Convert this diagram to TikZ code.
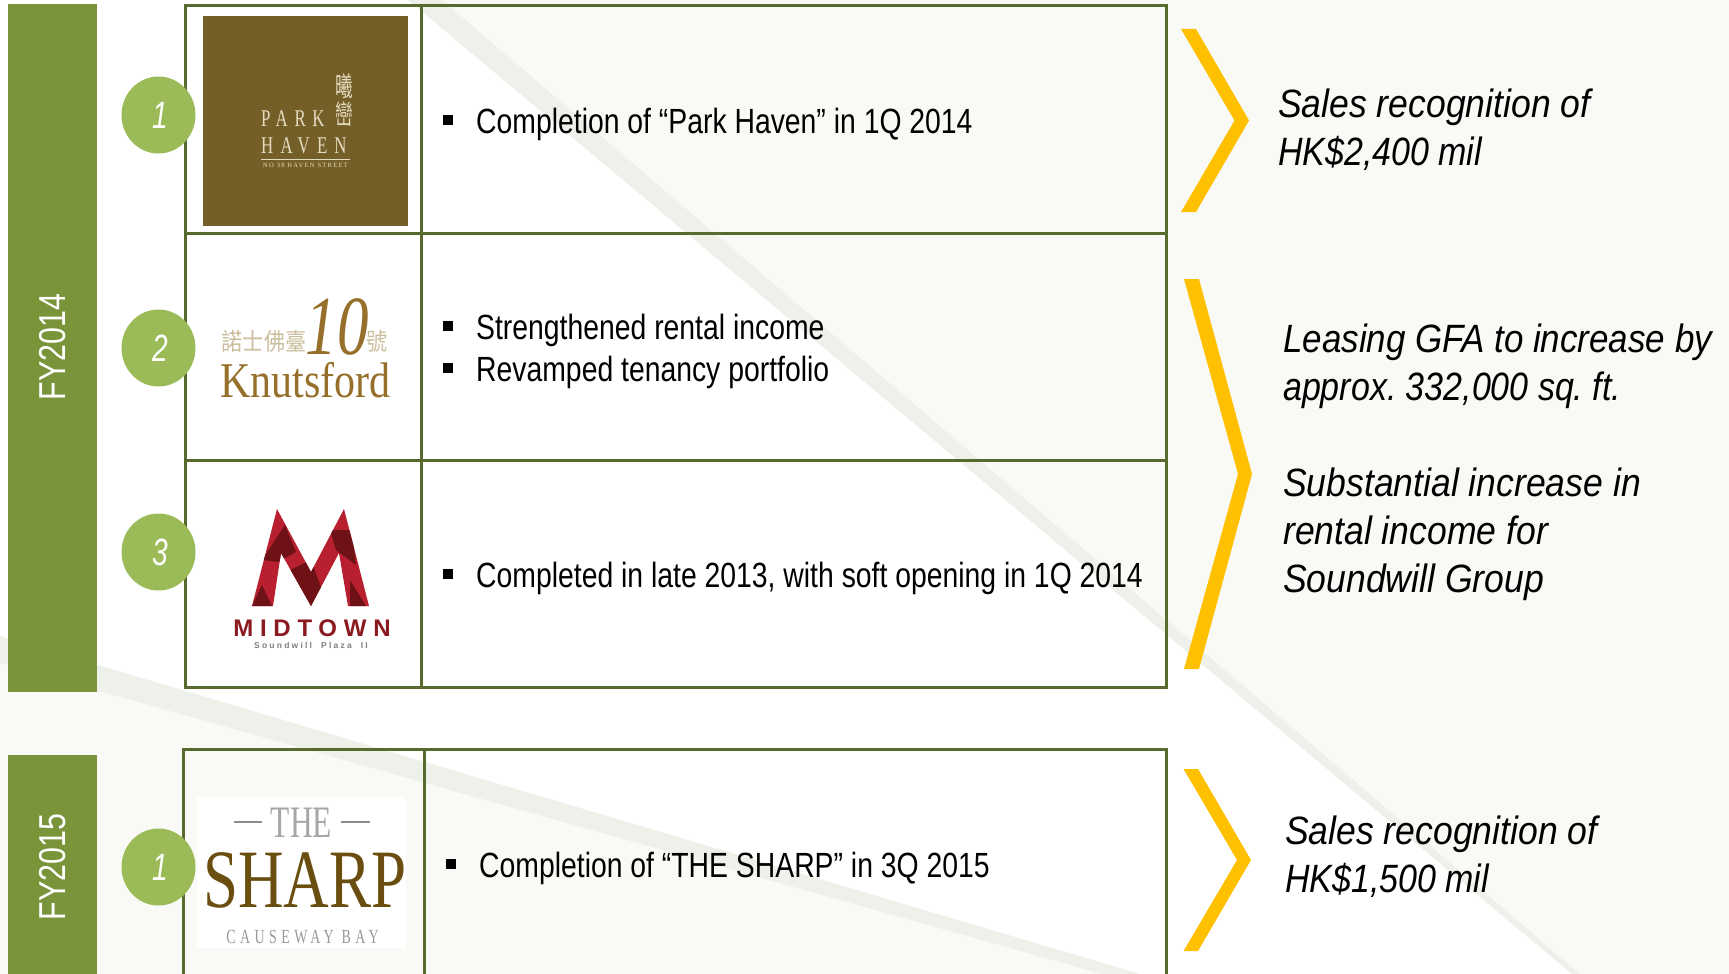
\documentclass[tikz,border=0pt]{standalone}
\usepackage{fontspec}
\usetikzlibrary{shapes.geometric}
\setmainfont{Liberation Sans}
\newfontfamily\narrowf[FakeStretch=0.81]{Liberation Sans}
\newfontfamily\sansi[FakeStretch=0.90]{Liberation Sans Italic}
\newfontfamily\sansj[FakeStretch=0.885]{Liberation Sans Italic}
\newfontfamily\sansk[FakeStretch=0.86]{Liberation Sans Italic}
\newfontfamily\numi[FakeStretch=0.74]{Liberation Sans Italic}
\newfontfamily\serif{Liberation Serif}
\newfontfamily\serifn[FakeStretch=0.70]{Liberation Serif}
\newfontfamily\serifs[FakeStretch=0.76]{Liberation Serif}
\newfontfamily\serifm[FakeStretch=0.84]{Liberation Serif}
\newfontfamily\serifi[FakeStretch=0.75]{Liberation Serif Italic}
\newfontfamily\cjkn[FakeStretch=0.88]{Noto Sans CJK TC}
\newfontfamily\cjkv[FakeStretch=0.65]{Noto Sans CJK TC}
\definecolor{offw}{HTML}{F9FAF6}
\definecolor{bandc}{HTML}{EEF1E9}
\definecolor{barc}{HTML}{7A9439}
\definecolor{linec}{HTML}{566B2D}
\definecolor{circ}{HTML}{9BBB59}
\definecolor{chev}{HTML}{FFC000}
\definecolor{brownb}{HTML}{755F28}
\definecolor{cream}{HTML}{E4DCC0}
\definecolor{knutl}{HTML}{CBBE9C}
\definecolor{knutd}{HTML}{96702A}
\definecolor{redm}{HTML}{B8202F}
\definecolor{redd}{HTML}{6E1218}
\definecolor{midt}{HTML}{8B1A20}
\definecolor{sharpb}{HTML}{6A4E10}
\frenchspacing
\tikzset{
  grid/.style={draw=linec,line width=3pt},
  bar/.style={fill=barc,draw=none},
  yearlab/.style={text=white,rotate=90,inner sep=0pt,font=\narrowf\fontsize{37.5}{37.5}\selectfont},
  numc/.style={ellipse,fill=circ,minimum width=74pt,minimum height=77pt,inner sep=0pt,text=white,font=\numi\fontsize{38}{38}\selectfont},
  chevron/.style={fill=chev,draw=none},
  txt/.style={anchor=base west,inner sep=0pt,text=black,font=\narrowf\fontsize{35}{35}\selectfont},
  res/.style={anchor=base west,inner sep=0pt,text=black,font=\sansi\fontsize{39.5}{39.5}\selectfont},
  resj/.style={res,font=\sansj\fontsize{39.5}{39.5}\selectfont},
  resk/.style={res,font=\sansk\fontsize{39.5}{39.5}\selectfont},
  bul/.style={rectangle,fill=black,minimum size=10pt,inner sep=0pt},
  logo/.style={inner sep=0pt,anchor=base},
  logow/.style={inner sep=0pt,anchor=base west}
}
\begin{document}
\begin{tikzpicture}[x=1pt,y=-1pt]
\useasboundingbox (0,0) rectangle (1729,974);
% background
\fill[white] (0,0) rectangle (1729,974);
\fill[offw] (442,0) -- (1729,0) -- (1729,974) -- (1580,974) -- cycle;
\fill[offw] (0,663) -- (1102,974) -- (0,974) -- cycle;
\fill[bandc] (408,0) -- (442,0) -- (1580,974) -- (1572,974) -- cycle;
\fill[bandc] (0,636) -- (1140,974) -- (1102,974) -- (0,663) -- cycle;
% year bars
\fill[bar] (8,4) rectangle (97,692);
\fill[bar] (8,755) rectangle (97,974);
\node[yearlab] (fy14) at (53,347) {FY2014};
\node[yearlab] (fy15) at (53,867) {FY2015};
% park haven logo
\fill[brownb] (203,16) rectangle (408,226);
\node[logow,text=cream,font=\serifn\fontsize{24}{24}\selectfont] (ph1) at (261,126) {\addfontfeature{LetterSpace=28}PARK};
\node[logow,text=cream,font=\serifn\fontsize{24}{24}\selectfont] (ph2) at (261,153) {\addfontfeature{LetterSpace=30}HAVEN};
\node[text=cream,inner sep=0pt,font=\cjkv\fontsize{27}{28}\selectfont,align=center] (ph3) at (344,100) {曦\\巒};
\draw[cream,line width=0.8pt] (261,159) -- (350,159);
\node[logo,text=cream,font=\serif\fontsize{6.5}{6.5}\selectfont] (ph4) at (305.5,167) {\addfontfeature{LetterSpace=20}NO 38 HAVEN STREET};
% knutsford logo
\node[logo,text=knutl,font=\cjkn\fontsize{24}{24}\selectfont] (kn1) at (264,350) {諾士佛臺};
\node[logo,text=knutd,font=\serifi\fontsize{84}{84}\selectfont] (kn2) at (337,354) {10};
\node[logo,text=knutl,font=\cjkn\fontsize{24}{24}\selectfont] (kn3) at (377,350) {號};
\node[logo,text=knutd,font=\serifm\fontsize{50}{50}\selectfont] (kn4) at (305.5,397) {Knutsford};
% midtown logo
\begin{scope}
\clip (252,606) -- (277,509) -- (311,572) -- (344,509) -- (369,606) -- (348,606) -- (339,553) -- (311,606) -- (281,553) -- (273,606) -- cycle;
\fill[redm] (245,500) rectangle (375,610);
\fill[redd] (262,560) -- (285,525) -- (296,552) -- (278,562) -- cycle;
\fill[redd] (290,570) -- (311,560) -- (322,590) -- (311,606) -- cycle;
\fill[redd] (330,530) -- (352,530) -- (356,565) -- (336,550) -- cycle;
\fill[redd] (252,606) -- (262,585) -- (272,606) -- cycle;
\fill[redd] (350,580) -- (366,606) -- (350,606) -- cycle;
\end{scope}
\node[logo,text=midt,font=\bfseries\fontsize{24}{24}\selectfont] (mt1) at (312,636) {\addfontfeature{LetterSpace=28}MIDTOWN};
\node[logo,text=gray,font=\bfseries\fontsize{8.5}{8.5}\selectfont] (mt2) at (311,648) {\addfontfeature{LetterSpace=26}Soundwill\ \ Plaza\ \ II};
% table FY2014
\draw[grid] (185,5.5) rectangle (1166,687);
\draw[grid] (185,233) -- (1166,233);
\draw[grid] (185,460) -- (1166,460);
\draw[grid] (421,5.5) -- (421,687);
% table FY2015
\draw[grid] (183,974.5) -- (183,749) -- (1166,749) -- (1166,974.5);
\draw[grid] (424,749) -- (424,974.5);
% the sharp logo
\fill[white] (197,797) rectangle (406,948);
\node[logo,text=black!35,font=\serifn\fontsize{45}{45}\selectfont] (sh1) at (301.5,837) {THE};
\draw[black!45,line width=1.6pt] (234,822) -- (262,822);
\draw[black!45,line width=1.6pt] (341,822) -- (370,822);
\node[logo,text=sharpb,font=\serifs\fontsize{83}{83}\selectfont] (sh2) at (305,907) {SHARP};
\node[logo,text=black!40,font=\serifn\fontsize{20}{20}\selectfont] (sh3) at (302.5,943) {\addfontfeature{LetterSpace=22}CAUSEWAY BAY};
% circles
\node[numc] (c1) at (158.5,115) {\hspace*{3pt}1};
\node[numc] (c2) at (158.5,348) {\hspace*{3pt}2};
\node[numc] (c3) at (158.5,552) {\hspace*{3pt}3};
\node[numc] (c4) at (158.5,867) {\hspace*{3pt}1};
% bullets and text
\node[bul] (b1) at (448,120) {};
\node[txt] (t1) at (476,133) {Completion of “Park Haven” in 1Q 2014};
\node[bul] (b2) at (448,326) {};
\node[txt] (t2) at (476,339) {Strengthened rental income};
\node[bul] (b3) at (448,368) {};
\node[txt] (t3) at (476,381) {Revamped tenancy portfolio};
\node[bul] (b4) at (448,574) {};
\node[txt] (t4) at (476,587) {Completed in late 2013, with soft opening in 1Q 2014};
\node[bul] (b5) at (451,864) {};
\node[txt] (t5) at (479,877) {Completion of “THE SHARP” in 3Q 2015};
% chevrons
\fill[chevron] (1181,29) -- (1196,29) -- (1249,120.5) -- (1196,212) -- (1181,212) -- (1234.5,120.5) -- cycle;
\fill[chevron] (1184,279) -- (1199,279) -- (1252,474) -- (1199,669) -- (1184,669) -- (1238,474) -- cycle;
\fill[chevron] (1183.5,769) -- (1198,769) -- (1251,860) -- (1198,951) -- (1183.5,951) -- (1237,860) -- cycle;
% results
\node[res] (r1) at (1278,117) {Sales recognition of};
\node[resk] (r2) at (1278,165) {HK\$2,400 mil};
\node[resj] (r3) at (1283,352) {Leasing GFA to increase by};
\node[resk] (r4) at (1283,400) {approx. 332,000 sq. ft.};
\node[res] (r5) at (1283,496) {Substantial increase in};
\node[res] (r6) at (1283,544) {rental income for};
\node[res] (r7) at (1283,592) {Soundwill Group};
\node[res] (r8) at (1285,844) {Sales recognition of};
\node[resk] (r9) at (1285,892) {HK\$1,500 mil};
\end{tikzpicture}
\end{document}
